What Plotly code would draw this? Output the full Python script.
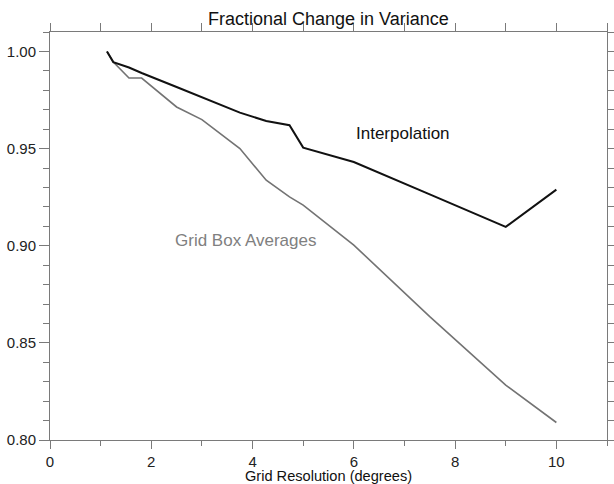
import plotly.graph_objects as go

# Data
res_interp = [1.125, 1.25, 1.56, 1.81, 2.5, 3.0, 3.75, 4.27, 4.73, 5.0, 6.0, 7.5, 9.0, 10.0]
var_interp = [1.000, 0.9945, 0.9917, 0.9889, 0.9817, 0.9765, 0.9685, 0.9642, 0.9620, 0.9505, 0.9431, 0.9264, 0.9097, 0.9289]

res_box = [1.125, 1.25, 1.56, 1.81, 2.5, 3.0, 3.75, 4.27, 4.73, 5.0, 6.0, 7.5, 9.0, 10.0]
var_box = [1.000, 0.9945, 0.9863, 0.9863, 0.9714, 0.9649, 0.9500, 0.9337, 0.9251, 0.9209, 0.9003, 0.8635, 0.8283, 0.8090]

x_ticks = [0, 2, 4, 6, 8, 10]
y_ticks = [0.80, 0.85, 0.90, 0.95, 1.00]
y_tick_labels = ["0.80", "0.85", "0.90", "0.95", "1.00"]

X_RANGE = [0, 11]
Y_RANGE = [0.80, 1.01]

FONT = "Liberation Sans, Arial, Helvetica, sans-serif"
AXIS_GRAY = "#7a7a7a"

fig = go.Figure()
fig.add_trace(go.Scatter(x=res_box, y=var_box, mode="lines",
                         line=dict(color="#737373", width=1.6), showlegend=False))
fig.add_trace(go.Scatter(x=res_interp, y=var_interp, mode="lines",
                         line=dict(color="#111111", width=2), showlegend=False))
# invisible trace to activate top/right axes
fig.add_trace(go.Scatter(x=[None], y=[None], xaxis="x2", yaxis="y2",
                         showlegend=False, hoverinfo="skip"))

fig.add_annotation(x=6.0, y=0.9579, text="Interpolation", showarrow=False,
                   xanchor="left", yanchor="middle",
                   font=dict(family=FONT, size=17, color="#111111"))
fig.add_annotation(x=2.43, y=0.9029, text="Grid Box Averages", showarrow=False,
                   xanchor="left", yanchor="middle",
                   font=dict(family=FONT, size=17, color="#808080"))
# chart title
fig.add_annotation(x=0.5, y=1.033, xref="paper", yref="paper",
                   text="Fractional Change in Variance", showarrow=False,
                   xanchor="center", yanchor="middle",
                   font=dict(family=FONT, size=18, color="#111111"))
# x-axis title
fig.add_annotation(x=0.5, y=-0.088, xref="paper", yref="paper",
                   text="Grid Resolution (degrees)", showarrow=False,
                   xanchor="center", yanchor="middle",
                   font=dict(family=FONT, size=14.6, color="#111111"))

fig.update_layout(
    width=614, height=484,
    margin=dict(l=50, r=7, t=32, b=44, autoexpand=False),
    paper_bgcolor="white", plot_bgcolor="white",
    font=dict(family=FONT, color="#222222"),
    xaxis=dict(range=X_RANGE, tickvals=x_ticks, ticks="outside", ticklen=8,
               tickcolor=AXIS_GRAY, showline=True, linecolor=AXIS_GRAY, linewidth=1,
               showgrid=False, zeroline=False, automargin=False,
               minor=dict(dtick=1, ticks="outside", ticklen=5, tickcolor=AXIS_GRAY),
               tickfont=dict(size=15, color="#222222")),
    yaxis=dict(range=Y_RANGE, tickvals=y_ticks, ticktext=y_tick_labels,
               ticks="outside", ticklen=10,
               tickcolor=AXIS_GRAY, showline=True, linecolor=AXIS_GRAY, linewidth=1,
               showgrid=False, zeroline=False, automargin=False,
               minor=dict(dtick=0.01, tick0=0.80, ticks="outside", ticklen=6, tickcolor=AXIS_GRAY),
               tickfont=dict(size=15, color="#222222")),
    xaxis2=dict(range=X_RANGE, overlaying="x", side="top", dtick=1, tick0=0,
                ticks="outside", ticklen=8, tickcolor=AXIS_GRAY,
                showline=True, linecolor=AXIS_GRAY, linewidth=1, automargin=False,
                showticklabels=False, showgrid=False, zeroline=False),
    yaxis2=dict(range=Y_RANGE, overlaying="y", side="right", dtick=0.01, tick0=0.80,
                ticks="outside", ticklen=6, tickcolor=AXIS_GRAY,
                showline=True, linecolor=AXIS_GRAY, linewidth=1, automargin=False,
                showticklabels=False, showgrid=False, zeroline=False),
)

fig.write_html("out.html", config={"displayModeBar": False},
               post_script="document.body.style.margin='0';document.body.style.padding='0';")
